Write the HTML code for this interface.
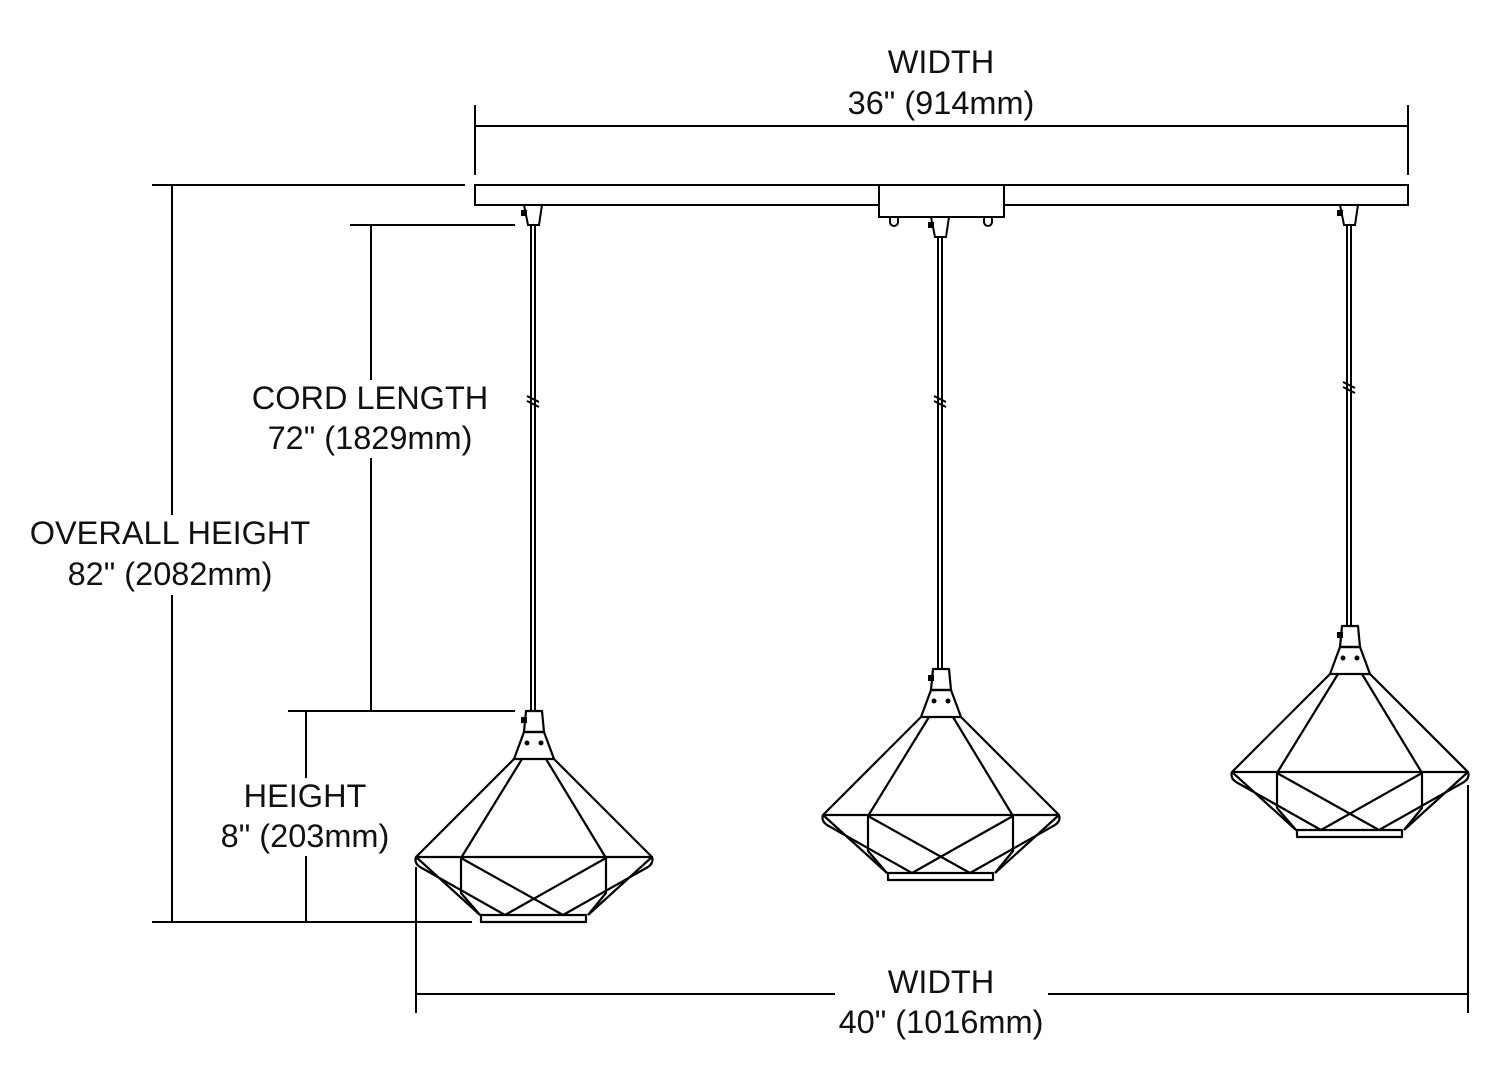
<!DOCTYPE html>
<html><head><style>
body{margin:0;background:#fff;}
svg{display:block;}
text{font-family:"Liberation Sans",sans-serif;font-size:32.5px;fill:#111;text-anchor:middle;}
</style></head><body>
<svg width="1500" height="1090" viewBox="0 0 1500 1090" xmlns="http://www.w3.org/2000/svg">
<defs>
<g id="p" fill="none" stroke="#000" stroke-width="2.2" stroke-linejoin="round">
  <path d="M-8,0 L8,0 L10,21 L-10,21 Z"/>
  <path d="M-10,21 L10,21 L20,48 L-20,48 Z"/>
  <circle cx="-7" cy="32" r="2.5" fill="#000" stroke="none"/>
  <circle cx="7" cy="32" r="2.5" fill="#000" stroke="none"/>
  <rect x="-13" y="6" width="6" height="6" fill="#000" stroke="none"/>
  <path d="M-20,48 L-118,146 L118,146 L20,48"/>
  <path d="M-12,48 L-73,147 L-73,182 L-54,204"/>
  <path d="M12,48 L72,147 L72,182 L54,204"/>
  <path d="M-73,147 L29,204 M72,147 L-29,204"/>
  <path d="M-118,146 Q-120,152 -114,156 L-29,204 M-118,146 L-54,204"/>
  <path d="M118,146 Q120,152 114,156 L29,204 M118,146 L54,204"/>
  <rect x="-53" y="204" width="105" height="7"/>
</g>
<g id="c" fill="none" stroke="#000" stroke-width="2">
  <path d="M-9,0 L9,0 L6,20 L-5,20 Z"/>
  <rect x="-12" y="5" width="6" height="6" fill="#000" stroke="none"/>
</g>
</defs>
<g stroke="#000" stroke-width="2" fill="none">
  <rect x="475" y="185" width="933" height="20" fill="#fff"/>
  <rect x="879" y="185" width="125" height="32" fill="#fff"/>
  <path d="M890,217 v5 a4,4 0 0 0 8,0 v-5 M984,217 v5 a4,4 0 0 0 8,0 v-5"/>
  <path d="M531,225 V711 M535,225 V711"/>
  <path d="M938,237 V669 M942,237 V669"/>
  <path d="M1347,225 V627 M1351,225 V627"/>
  <path d="M527,396 l12,6 M527,401 l12,6"/>
  <path d="M934,396 l12,6 M934,401 l12,6"/>
  <path d="M1343,382 l12,6 M1343,387 l12,6"/>
  <path d="M475,105 V175 M1408,105 V175 M475,126 H1408"/>
  <path d="M152,185 H465 M152,922 H472 M172,185 V515 M172,595 V922"/>
  <path d="M350,225 H515 M288,711 H515 M371,225 V380 M371,458 V711"/>
  <path d="M306,711 V778 M306,856 V922"/>
  <path d="M416,867 V1013 M1468,785 V1013 M416,994 H835 M1048,994 H1468"/>
</g>
<use href="#c" x="533" y="205"/>
<use href="#c" x="940" y="217"/>
<use href="#c" x="1349" y="205"/>
<use href="#p" x="534" y="711"/>
<use href="#p" x="941" y="669"/>
<use href="#p" x="1350" y="626"/>
<text x="941" y="73">WIDTH</text>
<text x="941" y="114">36" (914mm)</text>
<text x="370" y="409">CORD LENGTH</text>
<text x="370" y="449">72" (1829mm)</text>
<text x="170" y="544">OVERALL HEIGHT</text>
<text x="170" y="585">82" (2082mm)</text>
<text x="305" y="807">HEIGHT</text>
<text x="305" y="847">8" (203mm)</text>
<text x="941" y="993">WIDTH</text>
<text x="941" y="1033">40" (1016mm)</text>
</svg>
</body></html>
